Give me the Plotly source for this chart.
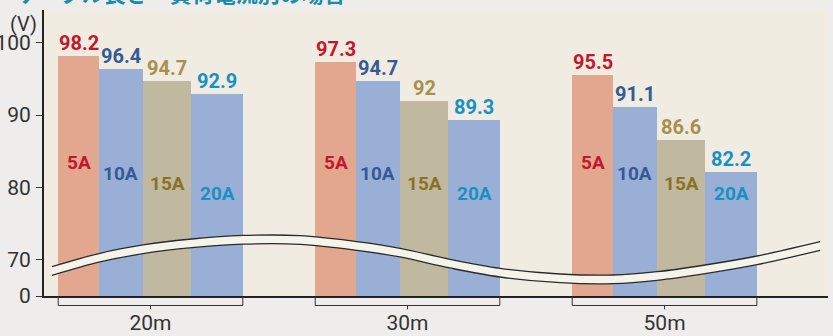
import plotly.graph_objects as go

# ---------------- data ----------------
groups = ["20m", "30m", "50m"]
series = ["5A", "10A", "15A", "20A"]
v_5A = [98.2, 97.3, 95.5]
v_10A = [96.4, 94.7, 91.1]
v_15A = [94.7, 92, 86.6]
v_20A = [92.9, 89.3, 82.2]
values = [v_5A, v_10A, v_15A, v_20A]
ytick_vals = [0, 70, 80, 90, 100]
ytick_labels = ["0", "70", "80", "90", "100"]
unit_label = "(V)"
title_text = "ケーブル長さ・負荷電流別の場合"

# ---------------- styles ----------------
ZERO_POS = 65.03          # display position of 0 on the broken axis
Y_TOP = 104.5
bar_offsets = [-0.3591, -0.2012, -0.0288, 0.1584]
bar_widths = [0.1579, 0.1724, 0.1872, 0.2007]
bar_colors = ["#e3a68e", "#9aafd6", "#c0b9a0", "#9aafd6"]
val_colors = ["#c4172c", "#365a98", "#a8904e", "#1990c4"]
inner_colors = ["#c4172c", "#365a98", "#8a7224", "#1990c4"]
inner_pos = [83.46, 81.87, 80.49, 79.18]
FONT_B = "Roboto, Liberation Sans, sans-serif"
FONT = "Roboto, Liberation Sans, sans-serif"

x_idx = list(range(len(groups)))

def disp(v):
    return ZERO_POS if v == 0 else v

fig = go.Figure()
for i, s in enumerate(series):
    fig.add_trace(go.Bar(
        x=x_idx, y=values[i], offset=bar_offsets[i], width=bar_widths[i],
        marker=dict(color=bar_colors[i], line=dict(width=0)), name=s,
        showlegend=False, hoverinfo="skip"))

# decorative wave (axis-break band), pixel-traced points converted to data units
wave_x = [-0.3833, -0.1965, -0.0292, 0.1615, 0.3599, 0.5817, 0.8035, 0.9708,
          1.1654, 1.3599, 1.5934, 1.7996, 1.9708, 2.1576, 2.3599, 2.6051]
wave_top = [69.075, 70.925, 72.071, 72.899, 73.383, 73.355, 72.527, 71.615,
            70.097, 68.854, 68.067, 67.929, 68.385, 69.310, 70.552, 72.527]
band = 1.2
wave_bot = [w - band for w in wave_top]
fig.add_trace(go.Scatter(
    x=wave_x + wave_x[::-1], y=wave_top + wave_bot[::-1], mode="lines",
    fill="toself", fillcolor="#f4f4ea", line=dict(width=0, shape="spline"),
    showlegend=False, hoverinfo="skip"))
for yy in (wave_top, wave_bot):
    fig.add_trace(go.Scatter(
        x=wave_x, y=yy, mode="lines",
        line=dict(color="#2a2a2a", width=1.3, shape="spline"),
        showlegend=False, hoverinfo="skip"))

annotations = []
shapes = []
for i, s in enumerate(series):
    for g in x_idx:
        xc = g + bar_offsets[i] + bar_widths[i] / 2
        v = values[i][g]
        annotations.append(dict(
            x=xc, y=v, xref="x", yref="y", text=f"{v:g}", showarrow=False,
            yanchor="bottom", yshift=-1,
            font=dict(family=FONT_B, size=20, color=val_colors[i], weight="bold")))
        annotations.append(dict(
            x=xc, y=inner_pos[i], xref="x", yref="y", text=s, showarrow=False,
            yanchor="middle",
            font=dict(family=FONT_B, size=19, color=inner_colors[i], weight="bold")))

# brackets under groups
for g in x_idx:
    x0 = g + bar_offsets[0]
    x1 = g + bar_offsets[-1] + bar_widths[-1]
    shapes.append(dict(type="path", xref="x", yref="paper",
                       path=f"M {x0},0 L {x0},-0.0332 L {x1},-0.0332 L {x1},0",
                       line=dict(color="#333333", width=1)))
    shapes.append(dict(type="line", xref="x", yref="paper", x0=g, x1=g,
                       y0=-0.0332, y1=-0.0465, line=dict(color="#333333", width=1)))

annotations.append(dict(x=0, y=1, xref="paper", yref="paper", text=unit_label,
                        showarrow=False, xanchor="right", yanchor="top",
                        xshift=-5, yshift=0,
                        font=dict(family=FONT, size=20, color="#333333")))
annotations.append(dict(x=-0.037, y=1, xref="paper", yref="paper", text=title_text,
                        showarrow=False, xanchor="left", yanchor="bottom",
                        yshift=0,
                        font=dict(family="Noto Sans CJK JP", size=22, color="#1a8cab",
                                  weight="bold")))

fig.update_layout(
    width=833, height=336,
    margin=dict(l=44, r=5, t=10, b=40, autoexpand=False),
    paper_bgcolor="#eeedeb", plot_bgcolor="#f0ece2",
    barmode="overlay", bargap=0,
    annotations=annotations, shapes=shapes,
    xaxis=dict(range=[-0.4144, 2.636], tickvals=x_idx, ticktext=groups,
               showgrid=False, zeroline=False, ticks="", automargin=False,
               showline=True, linecolor="#222222", linewidth=2,
               ticklabelstandoff=7,
               tickfont=dict(family=FONT, size=21, color="#333333")),
    yaxis=dict(range=[ZERO_POS, Y_TOP], tickvals=[disp(v) for v in ytick_vals],
               ticktext=ytick_labels, showgrid=False, zeroline=False,
               ticks="outside", ticklen=6, tickcolor="#333333", tickwidth=1,
               showline=True, linecolor="#222222", linewidth=2, automargin=False,
               ticklabelstandoff=1,
               tickfont=dict(family=FONT, size=21, color="#333333")),
)

fig.write_html("out.html", config={"displayModeBar": False},
               post_script="document.body.style.margin='0';document.body.style.background='#eeedeb';")
